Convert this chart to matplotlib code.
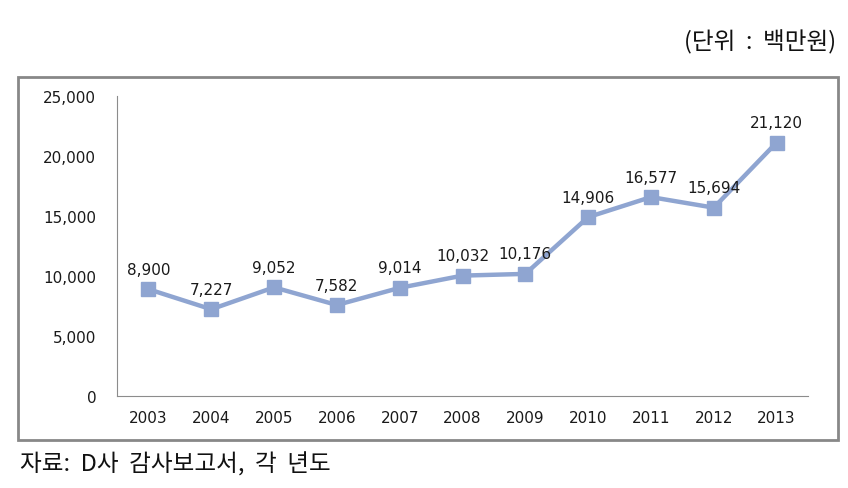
import matplotlib
matplotlib.use("Agg")
import matplotlib.pyplot as plt
from matplotlib.patches import Rectangle

years = ["2003", "2004", "2005", "2006", "2007", "2008", "2009", "2010", "2011", "2012", "2013"]
values = [8900, 7227, 9052, 7582, 9014, 10032, 10176, 14906, 16577, 15694, 21120]
yticks = [0, 5000, 10000, 15000, 20000, 25000]

fig = plt.figure(figsize=(8.48, 4.89), dpi=100)
ax = fig.add_axes([117/848, (489-397)/489, (808-117)/848, 300/489])

line_color = "#8FA5D1"
x = list(range(len(years)))
ax.plot(x, values, color=line_color, linewidth=3.2, marker="s", markersize=10.5,
        markerfacecolor=line_color, markeredgecolor=line_color, zorder=3)

for xi, v in zip(x, values):
    ax.annotate(f"{v:,}", (xi, v), xytext=(0, 9), textcoords="offset points",
                ha="center", va="bottom", fontsize=11, color="#1a1a1a",
                family="DejaVu Sans")

ax.set_xlim(-0.5, len(years) - 0.5)
ax.set_ylim(0, 25000)
ax.set_xticks(x)
ax.set_xticklabels(years, fontsize=11)
ax.set_yticks(yticks)
ax.set_yticklabels([f"{t:,}" for t in yticks], fontsize=11)
ax.tick_params(length=0, pad=10, colors="#1a1a1a")
ax.tick_params(axis="y", pad=15)
for s in ["top", "right"]:
    ax.spines[s].set_visible(False)
ax.spines["left"].set_color("#8c8c8c")
ax.spines["bottom"].set_color("#8c8c8c")

# outer frame
fig.patches.append(Rectangle((18/848, (489-441)/489), (838-18)/848, (441-78)/489,
                             transform=fig.transFigure, fill=False,
                             edgecolor="#888888", linewidth=2))

kfont = ["Noto Sans CJK KR", "DejaVu Sans"]
fig.text(836/848, 1 - 42/489, "(단위  :  백만원)", ha="right", va="center",
         fontsize=17, family=kfont, color="#111111")
fig.text(20/848, 1 - 465/489, "자료:  D사  감사보고서,  각  년도", ha="left", va="center",
         fontsize=17, family=kfont, color="#111111")

fig.savefig("out.png", dpi=100)
